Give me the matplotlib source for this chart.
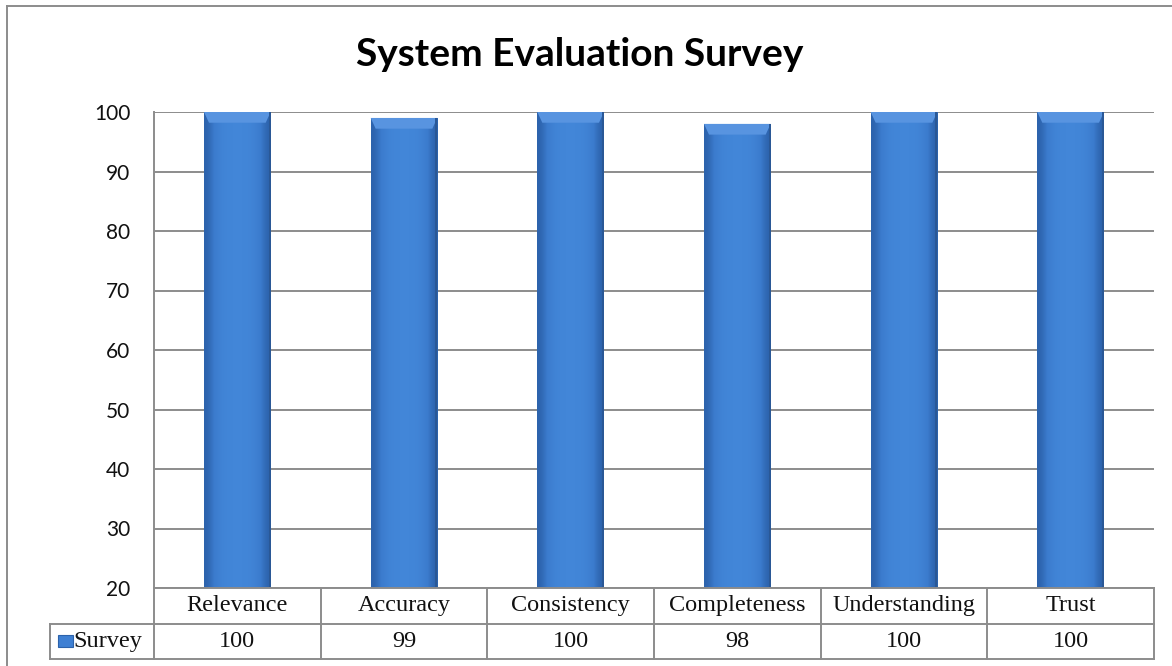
import matplotlib.pyplot as plt
import numpy as np
from matplotlib.patches import Polygon, Rectangle
from matplotlib.lines import Line2D
from matplotlib.colors import LinearSegmentedColormap

# ── data ──────────────────────────────────────────────────────────────────────
categories = ["Relevance", "Accuracy", "Consistency", "Completeness", "Understanding", "Trust"]
survey = [100, 99, 100, 98, 100, 100]
series_name = "Survey"
yticks = [20, 30, 40, 50, 60, 70, 80, 90, 100]

GRID = "#8c8c8c"
BAR = "#3f80d3"
BAR_DARK = "#2c62ab"
BAR_LIGHT = "#5894e0"
SERIF = ["Liberation Serif", "DejaVu Serif"]
SANS = ["Lato", "DejaVu Sans"]

fig = plt.figure(figsize=(11.72, 6.66), dpi=100)
fig.patch.set_facecolor("white")
ax = fig.add_axes([154 / 1172, 78 / 666, 1000 / 1172, 476 / 666])

x = np.arange(len(categories))
ax.set_xlim(-0.5, len(categories) - 0.5)
ax.set_ylim(20, 100)

# gridlines
for t in yticks:
    ax.axhline(t, color=GRID, lw=1.4, zorder=1)

# ── bars with a bevel look ────────────────────────────────────────────────────
w = 0.40
bars = ax.bar(x, survey, width=w, bottom=0, color=BAR, edgecolor="none", zorder=3)
grad = np.array([[0.0, 0.6, 0.9, 1.0, 1.0, 1.0, 0.9, 0.6, 0.0]])
cmap = LinearSegmentedColormap.from_list("bar", [BAR_DARK, "#3b7bcd", "#4286d8"])
for b, v in zip(bars, survey):
    x0 = b.get_x()
    x1 = x0 + b.get_width()
    im = ax.imshow(grad, cmap=cmap, aspect="auto", extent=(x0, x1, 20, v),
                   zorder=4, interpolation="bicubic")
    im.set_clip_path(b)
    # top bevel
    dx = 0.03
    dy = 1.8
    ax.add_patch(Polygon([(x0, v), (x1, v), (x1 - dx, v - dy), (x0 + dx, v - dy)],
                         closed=True, facecolor=BAR_LIGHT, edgecolor="none", zorder=5))
    # right edge shade
    ax.add_patch(Rectangle((x1 - 0.012, 20), 0.012, v - 20, facecolor="#2a5896",
                           edgecolor="none", zorder=5))

# axes styling
for s in ["top", "right", "bottom"]:
    ax.spines[s].set_visible(False)
ax.spines["left"].set_color(GRID)
ax.spines["left"].set_linewidth(1.4)
ax.set_xticks([])
ax.set_yticks(yticks)
ax.set_yticklabels([str(t) for t in yticks], family=SANS, fontsize=15, color="#111111")
ax.tick_params(axis="y", length=0, pad=17)

# ── data table below ──────────────────────────────────────────────────────────
trans = ax.get_xaxis_transform()
rh = 35.5 / 476
leg_left = -0.5 - 104 / (1000 / len(categories))
tkw = dict(color=GRID, lw=1.4, transform=trans, clip_on=False, zorder=6)

# horizontal lines
ax.plot([-0.5, len(categories) - 0.5], [0, 0], **tkw)
ax.plot([leg_left, len(categories) - 0.5], [-rh, -rh], **tkw)
ax.plot([leg_left, len(categories) - 0.5], [-2 * rh, -2 * rh], **tkw)
# vertical lines
for xb in np.arange(-0.5, len(categories), 1.0):
    ax.plot([xb, xb], [0, -2 * rh], **tkw)
ax.plot([leg_left, leg_left], [-rh, -2 * rh], **tkw)

for i, (c, v) in enumerate(zip(categories, survey)):
    ax.text(i, -0.5 * rh, c, ha="center", va="center", family=SERIF, fontsize=17.5,
            transform=trans, clip_on=False, color="#111111")
    ax.text(i, -1.5 * rh, str(v), ha="center", va="center", family=SERIF, fontsize=17.5,
            transform=trans, clip_on=False, color="#111111")

# legend key + series name
key_x = leg_left + 8 / (1000 / len(categories))
key_w = 15 / (1000 / len(categories))
key_h = 12 / 476
ax.add_patch(Rectangle((key_x, -1.5 * rh - key_h / 2), key_w, key_h, transform=trans,
                       facecolor=BAR, edgecolor=BAR_DARK, lw=0.8, clip_on=False, zorder=7))
ax.text(key_x + key_w + 0.003, -1.5 * rh, series_name, ha="left", va="center",
        family=SERIF, fontsize=17.5, transform=trans, clip_on=False, color="#111111")

# ── title & outer frame ───────────────────────────────────────────────────────
fig.text(0.495, 1 - 55 / 666, "System Evaluation Survey", ha="center", va="center",
         family=SANS, fontsize=28, fontweight="bold", color="#000000")

fig.add_artist(Line2D([7 / 1172, 7 / 1172], [0, 1 - 6 / 666], color=GRID, lw=1.4))
fig.add_artist(Line2D([7 / 1172, 1], [1 - 6 / 666, 1 - 6 / 666], color=GRID, lw=1.4))

fig.savefig("out.png", dpi=100, facecolor="white")
